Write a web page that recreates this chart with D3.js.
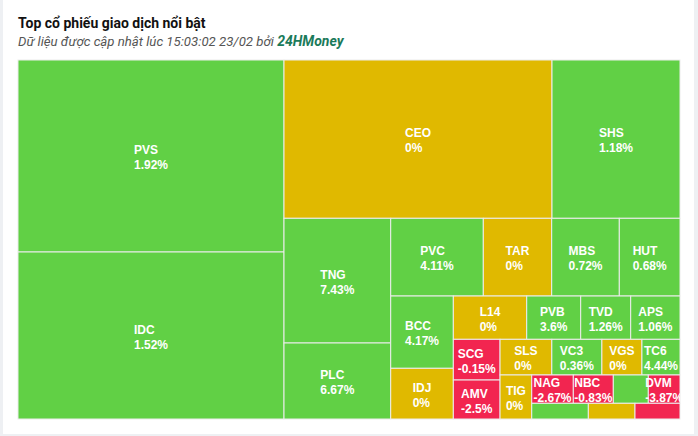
<!DOCTYPE html>
<html><head><meta charset="utf-8">
<script src="https://cdn.jsdelivr.net/npm/d3@7/dist/d3.min.js"></script>
<style>
html,body{margin:0;padding:0;background:#eef0f3;overflow:hidden;}
svg{display:block;}
</style></head><body>
<svg id="chart" width="698" height="436"></svg>
<script>
// ---- data ----
const titleText = "Top cổ phiếu giao dịch nổi bật";
const subtitleText = "Dữ liệu được cập nhật lúc 15:03:02 23/02 bởi ";
const brandText = "24HMoney";

const tickers = ["PVS","IDC","CEO","SHS","TNG","PLC","PVC","TAR","MBS","HUT",
  "BCC","IDJ","L14","PVB","TVD","APS","SCG","AMV","SLS","VC3",
  "VGS","TC6","TIG","NAG","NBC","","DVM","","",""];
const volumes = [51072,44422,42424,20262,13305,8109,7195,5315,5253,4716,
  4526,3174,3178,2338,2165,2135,1901,1821,1846,1785,
  1428,1357,1395,1177,1132,991,897,889,733,707];
const changes = [1.92,1.52,0,1.18,7.43,6.67,4.11,0,0.72,0.68,
  4.17,0,0,3.6,1.26,1.06,-0.15,-2.5,0,0.36,
  0,4.44,0,-2.67,-0.83,null,-3.87,null,null,null];
const trends = ["up","up","ref","up","up","up","up","ref","up","up",
  "up","ref","ref","up","up","up","down","down","ref","up",
  "ref","up","ref","down","down","up","down","up","ref","down"];

const colors = {up:"#61d045", ref:"#e0b900", down:"#f22550"};

// ---- layout ----
const svg = d3.select("#chart");
svg.append("rect").attr("x",3).attr("y",0).attr("width",691).attr("height",434).attr("fill","#ffffff");

svg.append("text").attr("x",18).attr("y",28)
  .attr("font-family","Roboto, 'Liberation Sans', Arial, sans-serif")
  .attr("font-weight","bold").attr("font-size",14).attr("fill","#111")
  .text(titleText);
const sub = svg.append("text").attr("x",18).attr("y",46)
  .attr("font-family","Roboto, 'Liberation Sans', Arial, sans-serif")
  .attr("font-style","italic").attr("font-size",13.2).attr("fill","#555");
sub.append("tspan").text(subtitleText);
sub.append("tspan").attr("font-weight","bold").attr("fill","#1b7a5a").attr("font-size",14).text(brandText);

const plot = {x:18, y:60, w:662, h:359};

// alternating-direction squarified tiling (column first, then row, ...)
function alternatingSquarify(parent, x0, y0, x1, y1) {
  const nodes = parent.children, n = nodes.length;
  let rx = x0, ry = y0, rw = x1 - x0, rh = y1 - y0;
  const scale = rw * rh / parent.value;
  const areas = nodes.map(d => d.value * scale);
  const ar = (a, b) => Math.max(a / b, b / a);
  let dir = 0, i = 0;
  while (i < n) {
    let sum = areas[i], j = i + 1;
    for (; j < n; j++) {
      const side = dir === 0 ? rh : rw;
      const prev = areas[j - 1];
      const t0 = sum / side, r0 = ar(t0, prev / t0);
      const t1 = (sum + areas[j]) / side, r1 = ar(t1, prev / t1);
      if (r1 > r0) break;
      sum += areas[j];
    }
    const t = sum / (dir === 0 ? rh : rw);
    let pos = dir === 0 ? ry : rx;
    for (let k = i; k < j; k++) {
      const len = areas[k] / t, nd = nodes[k];
      if (dir === 0) { nd.x0 = rx; nd.x1 = rx + t; nd.y0 = pos; nd.y1 = pos + len; }
      else { nd.y0 = ry; nd.y1 = ry + t; nd.x0 = pos; nd.x1 = pos + len; }
      pos += len;
    }
    if (dir === 0) { rx += t; rw -= t; } else { ry += t; rh -= t; }
    dir = 1 - dir; i = j;
  }
}

const items = tickers.map((t, i) => ({name:t, value:volumes[i], change:changes[i], trend:trends[i]}));
const root = d3.hierarchy({children: items}).sum(d => d.value || 0);
d3.treemap().size([plot.w, plot.h]).tile(alternatingSquarify)(root);

svg.append("clipPath").attr("id","plotclip").append("rect")
  .attr("x",plot.x).attr("y",plot.y).attr("width",plot.w).attr("height",plot.h);

const g = svg.append("g").attr("transform",`translate(${plot.x},${plot.y})`);
g.selectAll("rect.cell").data(root.leaves()).join("rect")
  .attr("class","cell")
  .attr("x",d=>d.x0).attr("y",d=>d.y0)
  .attr("width",d=>d.x1-d.x0).attr("height",d=>d.y1-d.y0)
  .attr("fill",d=>colors[d.data.trend])
  .attr("stroke","#ececec").attr("stroke-width",1);

const lg = svg.append("g").attr("clip-path","url(#plotclip)")
  .attr("font-family","'Liberation Sans', Arial, sans-serif")
  .attr("font-weight","bold").attr("font-size",12).attr("fill","#ffffff");
root.leaves().filter(d => d.data.name).forEach(d => {
  const cx = plot.x + (d.x0 + d.x1) / 2, cy = plot.y + (d.y0 + d.y1) / 2;
  const t = lg.append("text");
  const a = t.append("tspan").attr("y", cy - 2).text(d.data.name);
  const b = t.append("tspan").attr("y", cy + 13).text(d.data.change + "%");
  const w = Math.max(a.node().getComputedTextLength(), b.node().getComputedTextLength());
  a.attr("x", cx - w / 2); b.attr("x", cx - w / 2);
});
</script>
</body></html>
